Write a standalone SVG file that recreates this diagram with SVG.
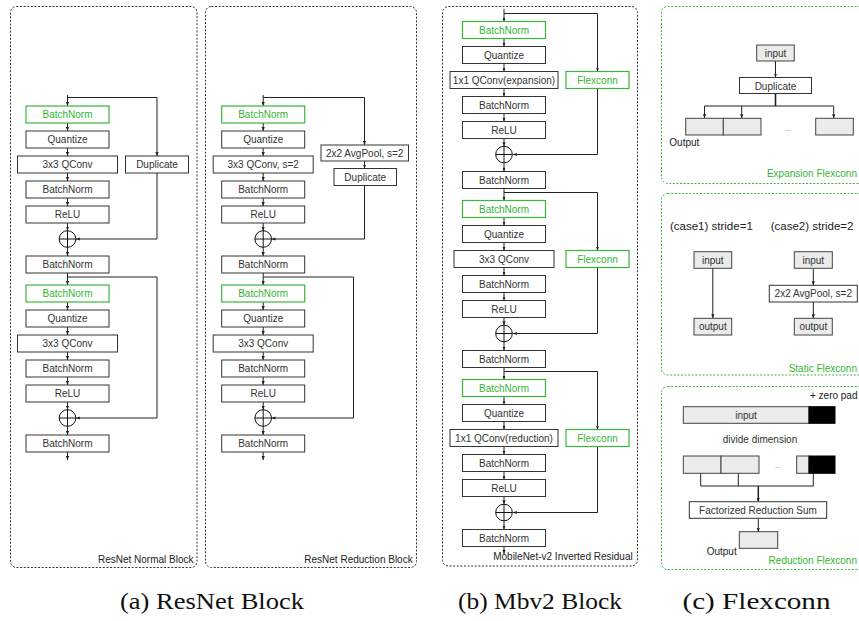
<svg xmlns="http://www.w3.org/2000/svg" width="859" height="621" viewBox="0 0 859 621">
<style>
.bg{fill:#fff}
.panel{fill:none;stroke:#333;stroke-width:1;stroke-dasharray:2,1.6}
.gpanel{fill:none;stroke:#3cb43c;stroke-width:1;stroke-dasharray:2,1.6}
.b{fill:#fff;stroke:#333;stroke-width:1}
.g{fill:#fff;stroke:#3cb43c;stroke-width:1.2}
.gr{fill:#ebebeb;stroke:#444;stroke-width:1}
.blk{fill:#000;stroke:#000;stroke-width:1}
.t{font-family:"Liberation Sans",Arial,sans-serif;font-size:10px;fill:#333;text-anchor:middle}
.ts{font-family:"Liberation Sans",Arial,sans-serif;font-size:10px;fill:#222}
.t.tg,.ts.tg{fill:#33b533}
.te{text-anchor:end}
.tc{font-size:11.5px}
.cap{font-family:"Liberation Serif","Times New Roman",serif;font-size:24px;fill:#111;text-anchor:middle}
.c{fill:none;stroke:#222;stroke-width:1}
.ca{fill:none;stroke:#222;stroke-width:1;marker-end:url(#ah)}
.sum{fill:none;stroke:#111;stroke-width:1}
</style>
<defs>
<marker id="ah" markerUnits="userSpaceOnUse" markerWidth="4" markerHeight="4" viewBox="0 0 4 4" refX="4" refY="2" orient="auto">
<path d="M0,0.4 L4,2 L0,3.6 z" fill="#222"/>
</marker>
</defs>
<rect class="bg" x="0" y="0" width="859" height="621"/>

<!-- panels -->
<g id="panels">
<rect class="panel" x="10.5" y="6.5" width="186.5" height="561" rx="6"/>
<rect class="panel" x="205.5" y="6.5" width="211" height="561" rx="6"/>
<rect class="panel" x="442.5" y="6.5" width="195" height="559.5" rx="6"/>
<rect class="gpanel" x="661.5" y="6.5" width="230" height="177" rx="6"/>
<rect class="gpanel" x="661.5" y="193.5" width="230" height="181.5" rx="6"/>
<rect class="gpanel" x="661.5" y="386.5" width="230" height="183" rx="6"/>
<text class="ts te" x="193.5" y="563">ResNet Normal Block</text>
<text class="ts te" x="412.7" y="563">ResNet Reduction Block</text>
<text class="ts te" x="632.7" y="560">MobileNet-v2 Inverted Residual</text>
<text class="ts tg te" x="857" y="177.3">Expansion Flexconn</text>
<text class="ts tg te" x="857" y="371.7">Static Flexconn</text>
<text class="ts tg te" x="857" y="564">Reduction Flexconn</text>
</g>

<!-- connectors -->
<g id="connectors">
<!-- panel 1 -->
<path class="ca" d="M67.5,95 V106"/>
<path class="ca" d="M67.5,97.5 H157 V156"/>
<path class="ca" d="M67.5,123 V131"/>
<path class="ca" d="M67.5,148 V156"/>
<path class="ca" d="M67.5,173 V181"/>
<path class="ca" d="M67.5,198 V206"/>
<path class="ca" d="M67.5,223 V230.7"/>
<path class="ca" d="M67.5,247.3 V256"/>
<path class="ca" d="M157,173 V239 H75.8"/>
<path class="ca" d="M67.5,273 V285"/>
<path class="ca" d="M67.5,277 H157 V418 H75.8"/>
<path class="ca" d="M67.5,302 V310"/>
<path class="ca" d="M67.5,327 V335"/>
<path class="ca" d="M67.5,352 V360"/>
<path class="ca" d="M67.5,377 V385"/>
<path class="ca" d="M67.5,402 V409.7"/>
<path class="ca" d="M67.5,426.3 V435"/>
<path class="ca" d="M67.5,452 V460"/>
<!-- panel 2 -->
<path class="ca" d="M263.2,95 V106"/>
<path class="ca" d="M263.2,97.5 H364.5 V145"/>
<path class="ca" d="M364.5,161 V168.5"/>
<path class="ca" d="M364.5,185.5 V239 H271.5"/>
<path class="ca" d="M263.2,123 V131"/>
<path class="ca" d="M263.2,148 V156"/>
<path class="ca" d="M263.2,173 V181"/>
<path class="ca" d="M263.2,198 V206"/>
<path class="ca" d="M263.2,223 V230.7"/>
<path class="ca" d="M263.2,247.3 V256"/>
<path class="ca" d="M263.2,273 V285"/>
<path class="ca" d="M263.2,277 H353.5 V418 H271.5"/>
<path class="ca" d="M263.2,302 V310"/>
<path class="ca" d="M263.2,327 V335"/>
<path class="ca" d="M263.2,352 V360"/>
<path class="ca" d="M263.2,377 V385"/>
<path class="ca" d="M263.2,402 V409.7"/>
<path class="ca" d="M263.2,426.3 V435"/>
<path class="ca" d="M263.2,452 V460"/>
<!-- panel 3 -->
<path class="ca" d="M504,9 V21.5"/>
<path class="ca" d="M504,13.5 H597.5 V71.5"/>
<path class="ca" d="M597.5,88.5 V154.5 H512.8"/>
<path class="ca" d="M504,38.5 V46.5"/>
<path class="ca" d="M504,63.5 V71.5"/>
<path class="ca" d="M504,88.5 V96.5"/>
<path class="ca" d="M504,113.5 V121.5"/>
<path class="ca" d="M504,138.5 V146.2"/>
<path class="ca" d="M504,162.8 V171.5"/>
<path class="ca" d="M504,188.5 V200.5"/>
<path class="ca" d="M504,192.5 H597.5 V250.5"/>
<path class="ca" d="M597.5,267.5 V333.5 H512.8"/>
<path class="ca" d="M504,217.5 V225.5"/>
<path class="ca" d="M504,242.5 V250.5"/>
<path class="ca" d="M504,267.5 V275.5"/>
<path class="ca" d="M504,292.5 V300.5"/>
<path class="ca" d="M504,317.5 V325.2"/>
<path class="ca" d="M504,341.8 V350.5"/>
<path class="ca" d="M504,367.5 V379.5"/>
<path class="ca" d="M504,371.5 H597.5 V429.5"/>
<path class="ca" d="M597.5,446.5 V512.5 H512.8"/>
<path class="ca" d="M504,396.5 V404.5"/>
<path class="ca" d="M504,421.5 V429.5"/>
<path class="ca" d="M504,446.5 V454.5"/>
<path class="ca" d="M504,471.5 V479.5"/>
<path class="ca" d="M504,496.5 V504.2"/>
<path class="ca" d="M504,520.8 V529.5"/>
<path class="ca" d="M504,546.5 V554"/>
<!-- expansion flexconn -->
<path class="ca" d="M775.5,61 V77.5"/>
<path class="c" style="stroke-width:1.6" d="M775.5,93.5 V106"/>
<path class="c" style="stroke-width:1.2" d="M704.5,106 H833.7"/>
<path class="ca" d="M704.5,106 V118.3"/>
<path class="ca" d="M741.7,106 V118.3"/>
<path class="ca" d="M833.7,106 V118.3"/>
<!-- static flexconn -->
<path class="ca" d="M712.8,268.3 V318.3"/>
<path class="ca" d="M813.3,268.3 V285.3"/>
<path class="ca" d="M813.3,302 V318.3"/>
<!-- reduction flexconn -->
<path class="c" d="M700.7,473.3 V486 H813.3 V473.3"/>
<path class="c" d="M738.3,473.3 V486"/>
<path class="ca" style="stroke-width:1.5" d="M758.3,486 V501.7"/>
<path class="ca" d="M758.3,518.3 V531.7"/>
</g>

<!-- Panel 1: ResNet Normal Block -->
<g id="p1-bn-g1"><rect class="g" x="26" y="106" width="83" height="17"/><text class="t tg" x="67.5" y="118">BatchNorm</text></g>
<g id="p1-quant1"><rect class="b" x="26" y="131" width="83" height="17"/><text class="t" x="67.5" y="143">Quantize</text></g>
<g id="p1-conv1"><rect class="b" x="17.5" y="156" width="100" height="17"/><text class="t" x="67.5" y="168">3x3 QConv</text></g>
<g id="p1-bn1"><rect class="b" x="26" y="181" width="83" height="17"/><text class="t" x="67.5" y="193">BatchNorm</text></g>
<g id="p1-relu1"><rect class="b" x="26" y="206" width="83" height="17"/><text class="t" x="67.5" y="218">ReLU</text></g>
<g id="p1-dup"><rect class="b" x="125.5" y="156" width="63" height="17"/><text class="t" x="157" y="168">Duplicate</text></g>
<g id="p1-sum1"><circle class="sum" cx="67.5" cy="239" r="8.3"/><path class="sum" d="M59.2,239 H75.8 M67.5,230.7 V247.3"/></g>
<g id="p1-bn2"><rect class="b" x="26" y="256" width="83" height="17"/><text class="t" x="67.5" y="268">BatchNorm</text></g>
<g id="p1-bn-g2"><rect class="g" x="26" y="285" width="83" height="17"/><text class="t tg" x="67.5" y="297">BatchNorm</text></g>
<g id="p1-quant2"><rect class="b" x="26" y="310" width="83" height="17"/><text class="t" x="67.5" y="322">Quantize</text></g>
<g id="p1-conv2"><rect class="b" x="17.5" y="335" width="100" height="17"/><text class="t" x="67.5" y="347">3x3 QConv</text></g>
<g id="p1-bn3"><rect class="b" x="26" y="360" width="83" height="17"/><text class="t" x="67.5" y="372">BatchNorm</text></g>
<g id="p1-relu2"><rect class="b" x="26" y="385" width="83" height="17"/><text class="t" x="67.5" y="397">ReLU</text></g>
<g id="p1-sum2"><circle class="sum" cx="67.5" cy="418" r="8.3"/><path class="sum" d="M59.2,418 H75.8 M67.5,409.7 V426.3"/></g>
<g id="p1-bn4"><rect class="b" x="26" y="435" width="83" height="17"/><text class="t" x="67.5" y="447">BatchNorm</text></g>

<!-- Panel 2: ResNet Reduction Block -->
<g id="p2-bn-g1"><rect class="g" x="221.7" y="106" width="83" height="17"/><text class="t tg" x="263.2" y="118">BatchNorm</text></g>
<g id="p2-quant1"><rect class="b" x="221.7" y="131" width="83" height="17"/><text class="t" x="263.2" y="143">Quantize</text></g>
<g id="p2-conv1"><rect class="b" x="213.2" y="156" width="100" height="17"/><text class="t" x="263.2" y="168">3x3 QConv, s=2</text></g>
<g id="p2-bn1"><rect class="b" x="221.7" y="181" width="83" height="17"/><text class="t" x="263.2" y="193">BatchNorm</text></g>
<g id="p2-relu1"><rect class="b" x="221.7" y="206" width="83" height="17"/><text class="t" x="263.2" y="218">ReLU</text></g>
<g id="p2-pool"><rect class="b" x="321" y="145" width="87.5" height="16"/><text class="t" x="364.7" y="156.7">2x2 AvgPool, s=2</text></g>
<g id="p2-dup"><rect class="b" x="334" y="168.5" width="62.5" height="17"/><text class="t" x="365.2" y="180.5">Duplicate</text></g>
<g id="p2-sum1"><circle class="sum" cx="263.2" cy="239" r="8.3"/><path class="sum" d="M254.9,239 H271.5 M263.2,230.7 V247.3"/></g>
<g id="p2-bn2"><rect class="b" x="221.7" y="256" width="83" height="17"/><text class="t" x="263.2" y="268">BatchNorm</text></g>
<g id="p2-bn-g2"><rect class="g" x="221.7" y="285" width="83" height="17"/><text class="t tg" x="263.2" y="297">BatchNorm</text></g>
<g id="p2-quant2"><rect class="b" x="221.7" y="310" width="83" height="17"/><text class="t" x="263.2" y="322">Quantize</text></g>
<g id="p2-conv2"><rect class="b" x="213.2" y="335" width="100" height="17"/><text class="t" x="263.2" y="347">3x3 QConv</text></g>
<g id="p2-bn3"><rect class="b" x="221.7" y="360" width="83" height="17"/><text class="t" x="263.2" y="372">BatchNorm</text></g>
<g id="p2-relu2"><rect class="b" x="221.7" y="385" width="83" height="17"/><text class="t" x="263.2" y="397">ReLU</text></g>
<g id="p2-sum2"><circle class="sum" cx="263.2" cy="418" r="8.3"/><path class="sum" d="M254.9,418 H271.5 M263.2,409.7 V426.3"/></g>
<g id="p2-bn4"><rect class="b" x="221.7" y="435" width="83" height="17"/><text class="t" x="263.2" y="447">BatchNorm</text></g>

<!-- Panel 3: MobileNet-v2 -->
<g id="p3-bn-g1"><rect class="g" x="462.5" y="21.5" width="83" height="17"/><text class="t tg" x="504" y="33.5">BatchNorm</text></g>
<g id="p3-quant1"><rect class="b" x="462.5" y="46.5" width="83" height="17"/><text class="t" x="504" y="58.5">Quantize</text></g>
<g id="p3-conv1"><rect class="b" x="450" y="71.5" width="108" height="17"/><text class="t" x="504" y="83.5">1x1 QConv(expansion)</text></g>
<g id="p3-flex1"><rect class="g" x="566" y="71.5" width="63" height="17"/><text class="t tg" x="597.5" y="83.5">Flexconn</text></g>
<g id="p3-bn1"><rect class="b" x="462.5" y="96.5" width="83" height="17"/><text class="t" x="504" y="108.5">BatchNorm</text></g>
<g id="p3-relu1"><rect class="b" x="462.5" y="121.5" width="83" height="17"/><text class="t" x="504" y="133.5">ReLU</text></g>
<g id="p3-sum1"><circle class="sum" cx="504" cy="154.5" r="8.3"/><path class="sum" d="M495.7,154.5 H512.3 M504,146.2 V162.8"/></g>
<g id="p3-bn2"><rect class="b" x="462.5" y="171.5" width="83" height="17"/><text class="t" x="504" y="183.5">BatchNorm</text></g>
<g id="p3-bn-g2"><rect class="g" x="462.5" y="200.5" width="83" height="17"/><text class="t tg" x="504" y="212.5">BatchNorm</text></g>
<g id="p3-quant2"><rect class="b" x="462.5" y="225.5" width="83" height="17"/><text class="t" x="504" y="237.5">Quantize</text></g>
<g id="p3-conv2"><rect class="b" x="454" y="250.5" width="100" height="17"/><text class="t" x="504" y="262.5">3x3 QConv</text></g>
<g id="p3-flex2"><rect class="g" x="566" y="250.5" width="63" height="17"/><text class="t tg" x="597.5" y="262.5">Flexconn</text></g>
<g id="p3-bn3"><rect class="b" x="462.5" y="275.5" width="83" height="17"/><text class="t" x="504" y="287.5">BatchNorm</text></g>
<g id="p3-relu2"><rect class="b" x="462.5" y="300.5" width="83" height="17"/><text class="t" x="504" y="312.5">ReLU</text></g>
<g id="p3-sum2"><circle class="sum" cx="504" cy="333.5" r="8.3"/><path class="sum" d="M495.7,333.5 H512.3 M504,325.2 V341.8"/></g>
<g id="p3-bn4"><rect class="b" x="462.5" y="350.5" width="83" height="17"/><text class="t" x="504" y="362.5">BatchNorm</text></g>
<g id="p3-bn-g3"><rect class="g" x="462.5" y="379.5" width="83" height="17"/><text class="t tg" x="504" y="391.5">BatchNorm</text></g>
<g id="p3-quant3"><rect class="b" x="462.5" y="404.5" width="83" height="17"/><text class="t" x="504" y="416.5">Quantize</text></g>
<g id="p3-conv3"><rect class="b" x="450" y="429.5" width="108" height="17"/><text class="t" x="504" y="441.5">1x1 QConv(reduction)</text></g>
<g id="p3-flex3"><rect class="g" x="566" y="429.5" width="63" height="17"/><text class="t tg" x="597.5" y="441.5">Flexconn</text></g>
<g id="p3-bn5"><rect class="b" x="462.5" y="454.5" width="83" height="17"/><text class="t" x="504" y="466.5">BatchNorm</text></g>
<g id="p3-relu3"><rect class="b" x="462.5" y="479.5" width="83" height="17"/><text class="t" x="504" y="491.5">ReLU</text></g>
<g id="p3-sum3"><circle class="sum" cx="504" cy="512.5" r="8.3"/><path class="sum" d="M495.7,512.5 H512.3 M504,504.2 V520.8"/></g>
<g id="p3-bn6"><rect class="b" x="462.5" y="529.5" width="83" height="17"/><text class="t" x="504" y="541.5">BatchNorm</text></g>

<!-- Expansion Flexconn -->
<g id="ef-input"><rect class="gr" x="756.7" y="45" width="37.6" height="16"/><text class="t" x="775.5" y="57">input</text></g>
<g id="ef-dup"><rect class="b" x="739.5" y="77.5" width="72" height="16"/><text class="t" x="775.5" y="89.5">Duplicate</text></g>
<g id="ef-out1"><rect class="gr" x="685.7" y="118.3" width="37.6" height="16.7"/></g>
<g id="ef-out2"><rect class="gr" x="723.3" y="118.3" width="37.7" height="16.7"/></g>
<g id="ef-out3"><rect class="gr" x="815.7" y="118.3" width="37.6" height="16.7"/></g>
<text class="t" style="font-size:7px;fill:#666" x="788.5" y="131">...</text>
<text class="ts" x="669.3" y="146">Output</text>

<!-- Static Flexconn -->
<text class="ts tc" x="670" y="230">(case1) stride=1</text>
<text class="ts tc" x="770.7" y="230">(case2) stride=2</text>
<g id="sf-in1"><rect class="gr" x="694" y="251.7" width="37.7" height="16.6"/><text class="t" x="712.8" y="263.7">input</text></g>
<g id="sf-out1"><rect class="gr" x="694" y="318.3" width="37.7" height="16.7"/><text class="t" x="712.8" y="330.3">output</text></g>
<g id="sf-in2"><rect class="gr" x="794.3" y="251.7" width="38" height="16.6"/><text class="t" x="813.3" y="263.7">input</text></g>
<g id="sf-pool"><rect class="b" x="769.3" y="285.3" width="88" height="16.7"/><text class="t" x="813.3" y="297.3">2x2 AvgPool, s=2</text></g>
<g id="sf-out2"><rect class="gr" x="794.3" y="318.3" width="38" height="16.7"/><text class="t" x="813.3" y="330.3">output</text></g>

<!-- Reduction Flexconn -->
<text class="ts te" x="857.5" y="399.3">+ zero pad</text>
<g id="rf-input"><rect class="gr" x="683.3" y="406.7" width="125.7" height="16.6"/><rect class="blk" x="809" y="406.7" width="26" height="16.6"/><text class="t" x="746" y="418.7">input</text></g>
<text class="t" x="760" y="442.7">divide dimension</text>
<g id="rf-part1"><rect class="gr" x="683.3" y="456" width="37.7" height="17.3"/></g>
<g id="rf-part2"><rect class="gr" x="721" y="456" width="38" height="17.3"/></g>
<g id="rf-part3"><rect class="gr" x="796.7" y="456" width="12.3" height="17.3"/><rect class="blk" x="809" y="456" width="26" height="17.3"/></g>
<text class="t" style="font-size:7px;fill:#666" x="778" y="468">...</text>
<g id="rf-sum"><rect class="b" x="689.3" y="501.7" width="137.4" height="16.6"/><text class="t" x="758" y="513.7">Factorized Reduction Sum</text></g>
<g id="rf-out"><rect class="gr" x="739.3" y="531.7" width="38.4" height="16.6"/></g>
<text class="ts" x="706.7" y="555">Output</text>

<!-- captions -->
<text class="cap" x="212" y="609" textLength="184" lengthAdjust="spacingAndGlyphs">(a) ResNet Block</text>
<text class="cap" x="540" y="609" textLength="164" lengthAdjust="spacingAndGlyphs">(b) Mbv2 Block</text>
<text class="cap" x="756.5" y="609" textLength="148" lengthAdjust="spacingAndGlyphs">(c) Flexconn</text>
</svg>
